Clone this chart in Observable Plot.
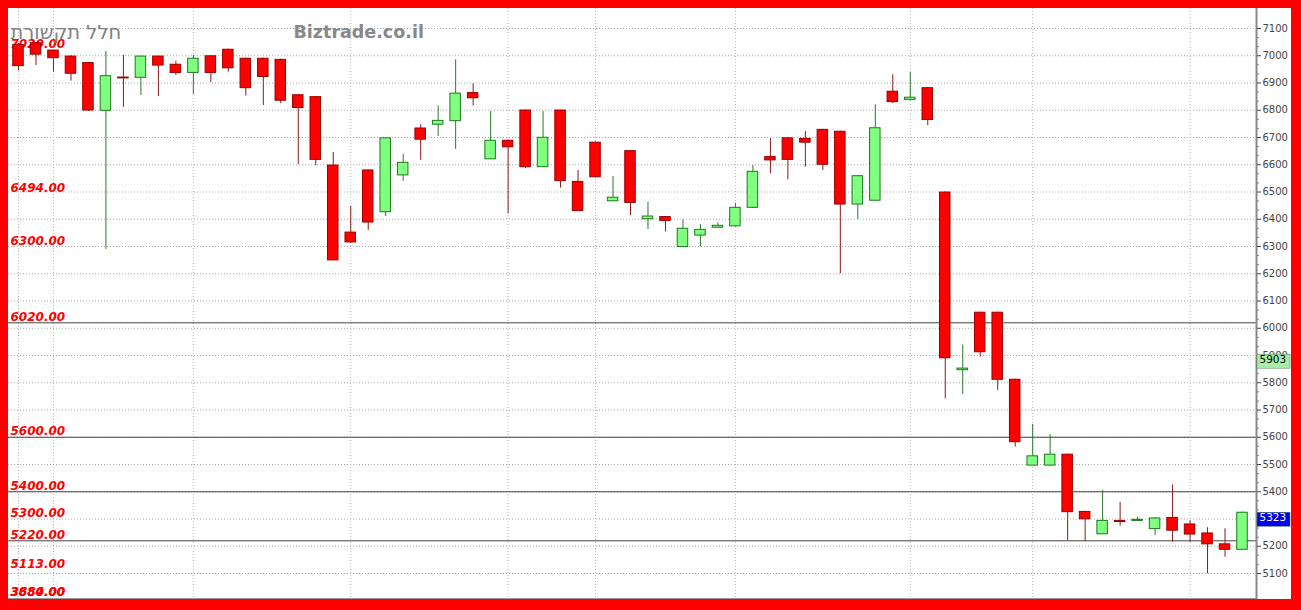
<!DOCTYPE html>
<html><head><meta charset="utf-8">
<script src="https://cdn.jsdelivr.net/npm/d3@7"></script>
<script src="https://cdn.jsdelivr.net/npm/@observablehq/plot@0.6"></script>
<style>
html,body{margin:0;padding:0;background:#ff0000;width:1301px;height:610px;overflow:hidden}
#chart{position:absolute;left:8px;top:8px;width:1283px;height:591px;background:#fff}
</style></head><body><div id="chart"></div>
<script>
const opens = [7040,7046,7019,6997,6973,6798,6920,6919,6997,6967,
  6937,6998,7022,6989,6989,6985,6855,6848,6597,6351,
  6579,6426,6561,6733,6747,6760,6863,6620,6688,6799,
  6591,6799,6537,6681,6466,6650,6400,6408,6298,6340,
  6369,6374,6442,6628,6697,6695,6728,6721,6454,6468,
  6868,6838,6881,6498,5846,6057,6057,5811,5496,5496,
  5536,5326,5244,5293,5293,5263,5304,5280,5247,5207,5187];
const closes = [6962,7004,6991,6934,6799,6925,6917,6997,6964,6937,
  6989,6937,6954,6881,6922,6835,6808,6618,6249,6315,
  6388,6697,6607,6692,6761,6861,6844,6688,6664,6591,
  6699,6540,6430,6554,6479,6460,6410,6394,6365,6361,
  6376,6442,6574,6616,6618,6681,6600,6454,6558,6734,
  6830,6846,6764,5890,5852,5912,5811,5582,5530,5536,
  5325,5299,5293,5289,5297,5302,5257,5243,5207,5187,5323];
const highs = [7045,7048,7020,7000,6975,7016,7001,6998,6999,6980,
  7001,7000,7024,6991,6991,6987,6857,6850,6645,6447,
  6581,6699,6638,6747,6816,6985,6897,6795,6690,6800,
  6795,6800,6579,6683,6557,6652,6463,6410,6398,6380,
  6387,6459,6597,6696,6699,6722,6730,6723,6560,6820,
  6930,6939,6883,6500,5939,6059,6059,5813,5647,5609,
  5538,5328,5404,5361,5307,5304,5425,5294,5268,5264,5325];
const lows = [6945,6964,6940,6907,6796,6289,6811,6854,6850,6928,
  6858,6902,6940,6852,6817,6824,6601,6597,6249,6311,
  6359,6410,6539,6616,6704,6656,6816,6620,6420,6586,
  6590,6514,6430,6552,6466,6414,6362,6353,6298,6298,
  6368,6372,6440,6567,6545,6591,6579,6200,6399,6466,
  6824,6834,6743,5741,5756,5894,5772,5564,5496,5494,
  5221,5217,5243,5274,5292,5239,5215,5215,5099,5160,5187];
const yTicks = [5100,5200,5300,5400,5500,5600,5700,5800,5900,6000,6100,6200,6300,6400,6500,6600,6700,6800,6900,7000,7100];
const gridCandles = [0,2,10,19,28,33,41,51,58,67];
const levelLines = [6020,5600,5400,5220];
const labelValues = [7020,6494,6300,6020,5600,5400,5300,5220,5113];
const labelTexts = ["7020.00","6494.00","6300.00","6020.00","5600.00","5400.00","5300.00","5220.00","5113.00"];
const bottomLabels = ["3680.00","3884.00"];
const markerValues = [5903,5323];
const titleLeft = "חלל תקשורת";
const titleRight = "Biztrade.co.il";

const candles = opens.map((o,i)=>({i, o, c: closes[i], h: highs[i], l: lows[i], up: closes[i] >= o}));
const minorTicks = [];
for (let k = 0; k < yTicks.length - 1; k++) {
  const a = yTicks[k], b = yTicks[k+1];
  minorTicks.push(a + (b-a)/3, a + 2*(b-a)/3);
}
const xDomain = [-0.572, 70.8];
const yDomain = [5004.6, 7173.4];
const markerFill = ["#a8f0a8","#0000ee"];
const markerText = ["#000","#fff"];
const labelFont = {fill:"#ff0000", fontStyle:"italic", fontWeight:"bold", fontSize:12, fontFamily:"DejaVu Sans"};

const chart = Plot.plot({
  width: 1283, height: 591,
  marginTop: 0, marginBottom: 0, marginLeft: 0, marginRight: 35,
  x: {domain: xDomain, axis: null},
  y: {domain: yDomain},
  color: {type: "identity"},
  style: {background: "#fff", fontFamily: "DejaVu Sans, Verdana, sans-serif", overflow: "visible"},
  marks: [
    Plot.ruleY(yTicks, {stroke: "#aaa", strokeDasharray: "1,2"}),
    Plot.ruleX(gridCandles, {stroke: "#bbb", strokeDasharray: "1,2"}),
    Plot.ruleY(levelLines, {stroke: "#444", strokeWidth: 1}),
    Plot.ruleY([yDomain[0]], {stroke: "#999", dy: -1}),
    Plot.text(labelTexts, {y: (d,i)=>labelValues[i], text: d=>d, frameAnchor: "left", dx: 2, dy: -2, textAnchor: "start", lineAnchor: "bottom", ...labelFont}),
    Plot.text(bottomLabels, {text: d=>d, frameAnchor: "bottom-left", dx: 2, dy: -4, textAnchor: "start", lineAnchor: "bottom", ...labelFont}),
    Plot.text([titleLeft], {text: d=>d, frameAnchor: "top-left", dx: 2, dy: 17, textAnchor: "start", lineAnchor: "top", fontSize: 19.5, fill: "#808080", fontFamily: "DejaVu Sans"}),
    Plot.text([titleRight], {text: d=>d, frameAnchor: "top-left", dx: 285, dy: 17, textAnchor: "start", lineAnchor: "top", fontSize: 17.5, fontWeight: "bold", fill: "#888", fontFamily: "DejaVu Sans"}),
    Plot.ruleX(candles, {x: "i", y1: "l", y2: "h", stroke: d => d.up ? "#2a7a2a" : "#8b1a1a", strokeWidth: 1}),
    Plot.rect(candles, {x1: d => d.i - 0.3, x2: d => d.i + 0.3, y1: "o", y2: "c", fill: d => d.up ? "#80ff80" : "#ff0000", stroke: d => d.up ? "#1e7a1e" : "#990000", strokeWidth: 1}),
    Plot.ruleX([xDomain[1]], {stroke: "#888", strokeWidth: 2}),
    Plot.axisY(minorTicks, {anchor: "right", tickSize: 2, tickFormat: () => "", label: null, color: "#888"}),
    Plot.axisY(yTicks, {anchor: "right", tickSize: 4, tickPadding: 2, tickFormat: d => String(d), label: null, fontSize: 10, color: "#444"}),
    Plot.rect(markerValues, {x1: xDomain[1], x2: xDomain[1], y1: d=>d, y2: d=>d, insetLeft: 1, insetRight: -34, insetBottom: -14, fill: (d,i)=>markerFill[i], stroke: "#557755", strokeWidth: 0.5}),
    Plot.text(markerValues, {y: d=>d, text: d=>String(d), frameAnchor: "right", dx: 3, dy: 1, textAnchor: "start", lineAnchor: "top", fontSize: 10.5, fill: (d,i)=>markerText[i]})
  ]
});
document.getElementById("chart").appendChild(chart);
</script></body></html>
